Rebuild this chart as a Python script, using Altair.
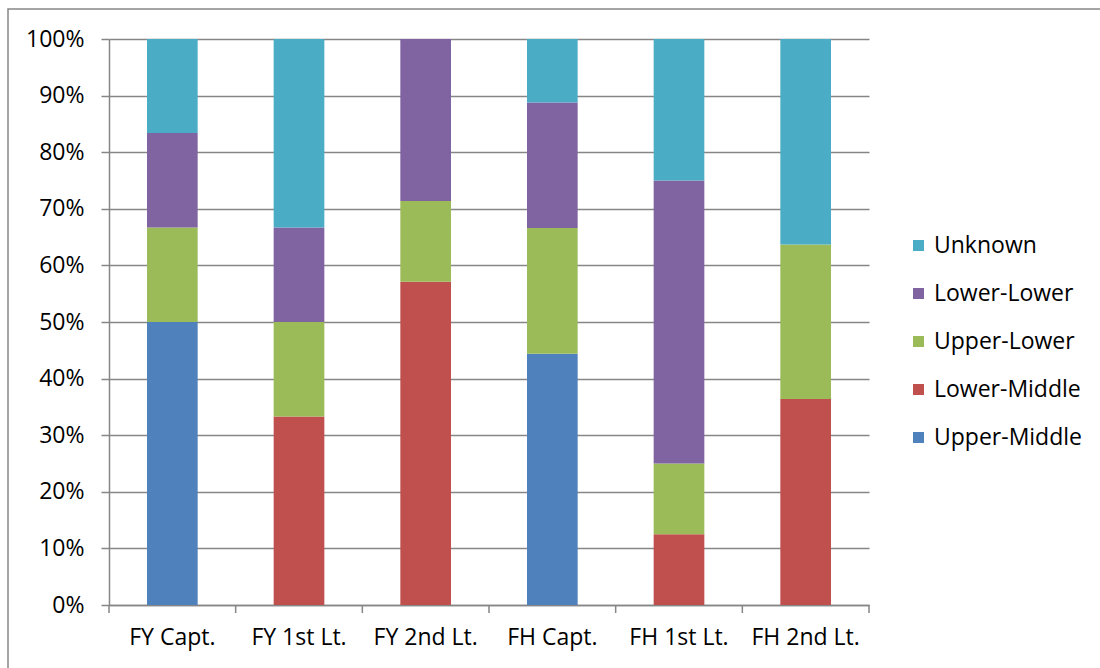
import altair as alt
import pandas as pd

ranks = ["FY Capt.", "FY 1st Lt.", "FY 2nd Lt.", "FH Capt.", "FH 1st Lt.", "FH 2nd Lt."]
classes = ["Upper-Middle", "Lower-Middle", "Upper-Lower", "Lower-Lower", "Unknown"]
colors = ["#4F81BD", "#C0504D", "#9BBB59", "#8064A2", "#4BACC6"]

upper_middle = [0.500, 0.0, 0.0, 0.444, 0.0, 0.0]
lower_middle = [0.0, 0.333, 0.571, 0.0, 0.125, 0.364]
upper_lower = [0.167, 0.167, 0.143, 0.222, 0.125, 0.273]
lower_lower = [0.167, 0.167, 0.286, 0.222, 0.500, 0.0]
unknown = [0.166, 0.333, 0.0, 0.112, 0.250, 0.363]

# category boundaries for the x-axis tick marks (between bands)
boundaries = [0, 1, 2, 3, 4, 5, 6]

series = [upper_middle, lower_middle, upper_lower, lower_lower, unknown]
rows = []
for ci, (cls, vals) in enumerate(zip(classes, series)):
    for r, v in zip(ranks, vals):
        rows.append({"rank": r, "cls": cls, "idx": ci, "value": v})
df = pd.DataFrame(rows)

FONT = "Open Sans"
FS = 23
GRID = "#868686"

bars = alt.Chart(df).mark_bar().encode(
    x=alt.X("rank:N", sort=ranks,
            scale=alt.Scale(paddingInner=0.6, paddingOuter=0.3),
            axis=alt.Axis(title=None, labelAngle=0,
                          ticks=False, domain=True,
                          labelFontSize=FS, labelFont=FONT, labelColor="#000000",
                          labelPadding=21,
                          domainColor=GRID, domainWidth=1.5, grid=False)),
    y=alt.Y("value:Q", stack="zero",
            scale=alt.Scale(domain=[0, 1], nice=False),
            axis=alt.Axis(title=None, format=".0%", values=[i / 10 for i in range(11)],
                          ticks=True, domain=True,
                          labelFontSize=FS, labelFont=FONT, labelColor="#000000",
                          labelPadding=17, tickSize=8, tickColor=GRID, tickWidth=1.5,
                          domainColor=GRID, domainWidth=1.5,
                          gridColor=GRID, gridWidth=1.5, grid=True)),
    color=alt.Color("cls:N",
                    scale=alt.Scale(domain=classes[::-1], range=colors[::-1]),
                    legend=alt.Legend(title=None, orient="none", legendX=798, legendY=195,
                                      symbolType="square", symbolSize=121,
                                      symbolStrokeWidth=0,
                                      labelFontSize=FS, labelFont=FONT, labelColor="#000000",
                                      rowPadding=24, labelOffset=4)),
    order=alt.Order("idx:Q", sort="ascending"),
)

ticks = alt.Chart(pd.DataFrame({"b": boundaries})).mark_rule(
    color=GRID, strokeWidth=1.5
).encode(
    x=alt.X("b:Q", scale=alt.Scale(domain=[0, 6], nice=False), axis=None),
    y=alt.value(566),
    y2=alt.value(574),
)

border = alt.Chart(pd.DataFrame({"a": [0]})).mark_rect(
    fill=None, stroke="#868686", strokeWidth=1.5
).encode(
    x=alt.value(-101), x2=alt.value(1100), y=alt.value(-30), y2=alt.value(700)
)

chart = alt.layer(border, bars, ticks).resolve_scale(x="independent").properties(
    width=760, height=566,
    padding={"left": 109, "top": 39, "right": 231, "bottom": 63},
    autosize=alt.AutoSizeParams(type="none"),
    background="white",
).configure_view(stroke=None)

chart.save("out.html", embed_options={"renderer": "svg", "actions": False})
